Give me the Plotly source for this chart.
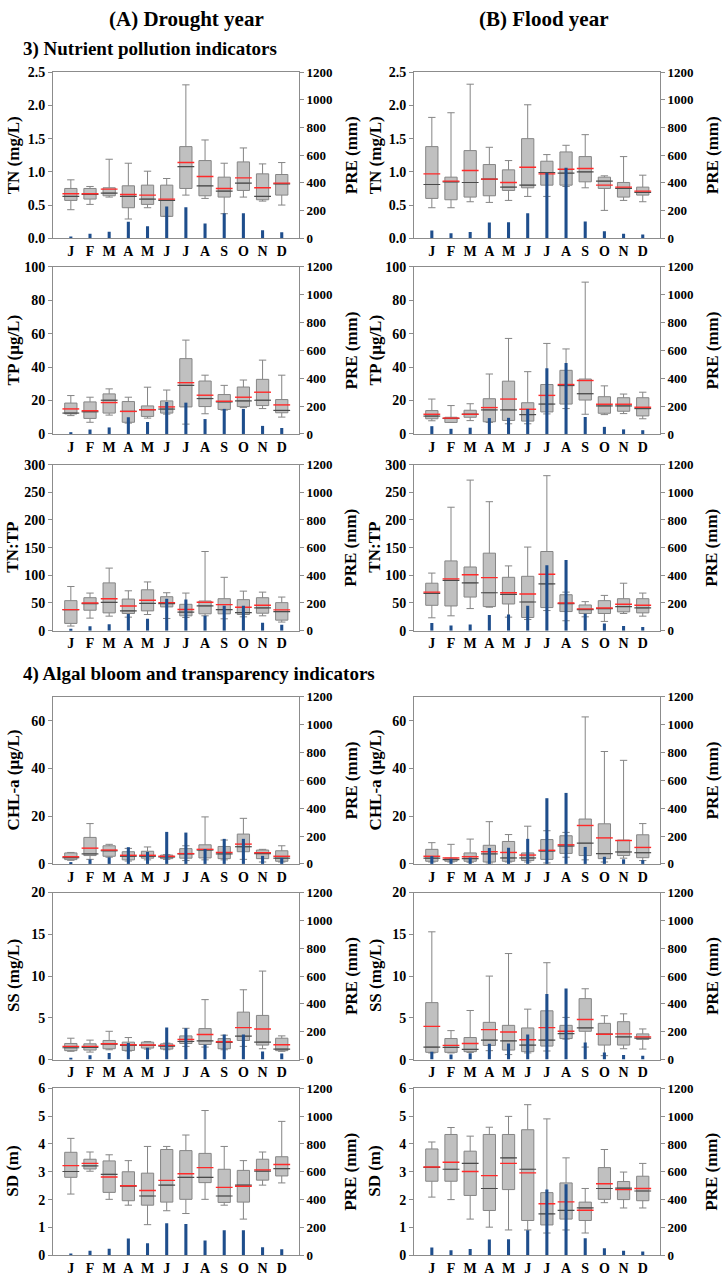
import plotly.graph_objects as go

MONTHS = ["J", "F", "M", "A", "M", "J", "J", "A", "S", "O", "N", "D"]

PRE_DROUGHT = [13, 32, 47, 120, 86, 230, 225, 107, 180, 180, 58, 43]
PRE_FLOOD = [56, 37, 45, 114, 116, 180, 472, 510, 122, 51, 33, 27]

# ---- TN (mg/L) ----
TN_D_LOW = [0.43, 0.51, 0.62, 0.29, 0.46, 0.33, 0.65, 0.60, 0.37, 0.62, 0.56, 0.50]
TN_D_Q1 = [0.57, 0.59, 0.64, 0.46, 0.51, 0.33, 0.75, 0.64, 0.62, 0.72, 0.58, 0.65]
TN_D_MED = [0.63, 0.66, 0.68, 0.63, 0.59, 0.57, 1.08, 0.79, 0.71, 0.83, 0.63, 0.82]
TN_D_Q3 = [0.75, 0.75, 0.76, 0.79, 0.80, 0.80, 1.38, 1.17, 0.92, 1.15, 0.97, 0.96]
TN_D_HIGH = [0.88, 0.78, 1.19, 1.13, 1.01, 0.90, 2.31, 1.48, 1.13, 1.36, 1.12, 1.14]
TN_D_MEAN = [0.67, 0.67, 0.74, 0.66, 0.65, 0.59, 1.14, 0.93, 0.75, 0.91, 0.76, 0.83]

TN_F_LOW = [0.46, 0.46, 0.55, 0.54, 0.57, 0.63, 0.63, 0.78, 0.76, 0.42, 0.57, 0.55]
TN_F_Q1 = [0.60, 0.58, 0.62, 0.64, 0.72, 0.76, 0.80, 0.80, 0.85, 0.75, 0.62, 0.65]
TN_F_MED = [0.81, 0.85, 0.84, 0.89, 0.77, 0.80, 0.99, 0.98, 1.00, 0.86, 0.75, 0.69]
TN_F_Q3 = [1.38, 0.92, 1.32, 1.11, 1.03, 1.50, 1.16, 1.30, 1.23, 0.92, 0.84, 0.77]
TN_F_HIGH = [1.82, 1.89, 2.32, 1.37, 1.17, 2.01, 1.26, 1.40, 1.56, 0.94, 1.23, 0.95]
TN_F_MEAN = [0.97, 0.86, 1.02, 0.89, 0.84, 1.07, 0.97, 1.04, 1.05, 0.80, 0.77, 0.71]

# ---- TP (ug/L) ----
TP_D_LOW = [11, 7, 11.3, 6.5, 9.5, 11.9, 5.9, 12.1, 14.3, 15.8, 15.2, 10.1]
TP_D_Q1 = [12, 9.3, 12.5, 7, 10.5, 12.5, 16.2, 16.4, 14.7, 16.4, 17, 12.7]
TP_D_MED = [12.5, 13.3, 20.2, 13.5, 14.5, 14.9, 29.1, 21.2, 19.2, 19.8, 20.2, 14.1]
TP_D_Q3 = [18.5, 19.2, 24, 19.4, 16.8, 19.8, 45.1, 31.7, 23.6, 28.1, 32.7, 20.6]
TP_D_HIGH = [23, 22, 27, 22, 28, 26.3, 56.2, 35.2, 29.1, 32.3, 44.2, 35.2]
TP_D_MEAN = [15, 13.9, 18.8, 13.5, 14.5, 16.2, 30.7, 23.2, 19.6, 22, 25, 17.4]

TP_F_LOW = [7.9, 6.9, 8, 6.9, 6.1, 6.1, 12, 15.2, 11.8, 11.6, 12.2, 9.1]
TP_F_Q1 = [9.1, 6.9, 10, 7.3, 8.1, 7.7, 13.2, 17.9, 20.3, 12.4, 13.6, 10.8]
TP_F_MED = [10.7, 9.3, 11.8, 14.4, 14.4, 11.6, 17.9, 29, 24.1, 16.8, 16.8, 15.2]
TP_F_Q3 = [14, 10, 14.2, 21.1, 31.6, 18.7, 29.6, 38.1, 32.9, 22.3, 21.7, 21.7]
TP_F_HIGH = [20.9, 17, 18.1, 35.9, 57.2, 37.3, 54.2, 50.9, 90.9, 28.8, 23.9, 25]
TP_F_MEAN = [11.8, 9.5, 11.8, 15.8, 20.9, 14.8, 23.1, 29.6, 32, 17.8, 17.8, 16]

# ---- TN:TP ----
NP_D_LOW = [8.3, 22.6, 26.2, 24.4, 29.2, 22, 23.8, 26.8, 21.4, 25, 26.8, 15.5]
NP_D_Q1 = [13.1, 36.9, 32.1, 31, 35.7, 42.9, 26.8, 30.4, 30.4, 29.2, 31.5, 19]
NP_D_MED = [38, 49, 51.2, 35.7, 49.4, 49, 33.3, 44.6, 38.1, 32.7, 41, 34.5]
NP_D_Q3 = [54.2, 59.5, 86.3, 57.1, 73.8, 61.3, 47.6, 53.6, 57.7, 56, 59.5, 50.6]
NP_D_HIGH = [79.8, 67.9, 113, 72, 88, 68.5, 67.9, 143, 96.4, 71.4, 69.6, 60.7]
NP_D_MEAN = [38, 50, 57.7, 44.6, 54.8, 50.6, 38.1, 51.2, 47, 42.3, 45.8, 37.5]

NP_F_LOW = [23.2, 26.8, 39.9, 42.3, 24.4, 20.2, 36.3, 17.9, 25, 16.7, 31, 26.2]
NP_F_Q1 = [45.8, 44.6, 60.7, 43.5, 48.2, 23.8, 41.7, 34.5, 31, 31, 33.9, 32.1]
NP_F_MED = [67.3, 91, 86.3, 68.5, 65.5, 51.8, 84.5, 48.8, 38.1, 39.9, 43.5, 41]
NP_F_Q3 = [85.7, 126, 115, 140, 96.4, 98.2, 143, 64.9, 46.4, 54.2, 57.7, 57.7]
NP_F_HIGH = [104, 223, 272, 233, 117, 151, 280, 69.6, 52.4, 63.7, 85.7, 67.9]
NP_F_MEAN = [69.6, 93.5, 101, 95.8, 68.5, 66.1, 102, 50, 39.3, 41, 47.6, 45.8]

# ---- CHL-a (ug/L) ----
CHL_D_LOW = [1.5, 1.9, 2.8, 1.2, 1.7, 1.9, 1.4, 1.7, 1.7, 1.9, 0.8, 0.8]
CHL_D_Q1 = [1.8, 3.5, 3.2, 1.7, 2.4, 2.2, 2.4, 2.5, 2.2, 5.1, 2.2, 1.1]
CHL_D_MED = [2.6, 4.2, 5.5, 3.2, 3.2, 2.9, 4.2, 5.8, 4.2, 7.2, 4.3, 2.4]
CHL_D_Q3 = [4.6, 11.1, 7.6, 5.1, 5.3, 3.7, 6.4, 8.0, 7.3, 12.5, 5.8, 5.5]
CHL_D_HIGH = [4.8, 16.9, 8.2, 6.5, 7.1, 3.9, 7.6, 19.7, 10.0, 19.1, 6.1, 7.6]
CHL_D_MEAN = [3.0, 6.6, 5.8, 3.6, 3.6, 3.2, 4.3, 6.1, 4.8, 8.3, 4.7, 3.2]

CHL_F_LOW = [0.8, 0.8, 0.7, 0.4, 0.8, 0.8, 0.4, 2.8, 1.7, 0.8, 2.4, 1.4]
CHL_F_Q1 = [1.1, 1.1, 1.1, 0.8, 1.1, 1.4, 1.9, 4.4, 3.5, 2.2, 3.5, 2.6]
CHL_F_MED = [2.4, 1.8, 2.2, 4.2, 2.5, 2.5, 5.4, 7.5, 8.7, 4.3, 5.0, 4.7]
CHL_F_Q3 = [6.1, 2.4, 4.6, 7.8, 9.4, 4.6, 10.2, 11.8, 18.8, 16.8, 10.0, 12.2]
CHL_F_HIGH = [8.9, 8.2, 10.4, 17.7, 12.3, 15.8, 13.9, 13.2, 61.6, 47.1, 43.4, 16.9]
CHL_F_MEAN = [3.2, 2.5, 3.0, 5.1, 4.8, 3.7, 5.7, 8.0, 16.1, 10.9, 9.8, 6.9]

# ---- SS (mg/L) ----
SS_D_LOW = [0.99, 0.9, 1.18, 1.03, 1.26, 1.18, 1.58, 1.5, 1.18, 1.58, 1.3, 0.99]
SS_D_Q1 = [1.07, 1.14, 1.3, 1.1, 1.38, 1.26, 1.93, 1.81, 1.3, 2.29, 1.74, 1.07]
SS_D_MED = [1.42, 1.46, 1.85, 1.7, 1.7, 1.62, 2.17, 2.25, 2.05, 2.8, 2.09, 1.26]
SS_D_Q3 = [1.93, 1.89, 2.29, 2.09, 2.09, 1.89, 2.84, 3.71, 2.52, 5.68, 5.29, 2.56]
SS_D_HIGH = [2.56, 2.33, 3.39, 2.64, 2.17, 1.97, 3.75, 7.18, 2.92, 8.36, 10.6, 2.84]
SS_D_MEAN = [1.58, 1.58, 1.89, 1.78, 1.74, 1.7, 2.41, 3.0, 2.13, 3.83, 3.67, 1.78]

SS_F_LOW = [0.8, 0.8, 0.85, 1.07, 0.6, 0.8, 1.03, 2.45, 1.5, 0.47, 1.3, 1.26]
SS_F_Q1 = [0.87, 0.87, 0.95, 1.7, 1.14, 0.95, 1.62, 2.52, 3.39, 1.74, 1.74, 2.41]
SS_F_MED = [1.5, 1.46, 1.22, 2.33, 2.25, 1.74, 2.33, 3.12, 3.79, 3.04, 2.72, 2.56]
SS_F_Q3 = [6.82, 2.52, 2.64, 4.46, 4.1, 3.79, 5.84, 4.1, 7.3, 4.34, 4.54, 3.08]
SS_F_HIGH = [15.3, 3.47, 5.88, 10.0, 12.7, 6.04, 11.6, 5.05, 8.48, 5.25, 5.48, 3.67]
SS_F_MEAN = [3.98, 1.7, 1.93, 3.59, 3.31, 2.37, 3.83, 3.39, 4.81, 3.04, 3.08, 2.72]

# ---- SD (m) ----
SD_D_LOW = [2.2, 3.02, 2.01, 1.8, 1.1, 1.6, 1.5, 2.01, 1.8, 1.3, 2.52, 2.6]
SD_D_Q1 = [2.8, 3.1, 2.26, 1.96, 1.8, 1.91, 2.01, 2.61, 1.9, 1.91, 2.7, 2.85]
SD_D_MED = [3.01, 3.21, 2.91, 2.48, 2.13, 2.52, 2.8, 2.8, 2.13, 2.52, 3.02, 3.11]
SD_D_Q3 = [3.7, 3.45, 3.39, 3.0, 2.95, 3.8, 3.76, 3.66, 3.09, 3.05, 3.45, 3.54]
SD_D_HIGH = [4.2, 3.71, 3.61, 3.4, 3.91, 3.91, 4.32, 5.2, 3.91, 3.4, 3.71, 4.81]
SD_D_MEAN = [3.22, 3.3, 2.81, 2.5, 2.33, 2.69, 2.93, 3.15, 2.44, 2.48, 3.07, 3.26]

SD_F_LOW = [2.09, 2.0, 1.3, 1.01, 0.91, 0.91, 0.8, 0.91, 0.8, 1.89, 1.7, 1.7]
SD_F_Q1 = [2.66, 2.66, 2.15, 1.61, 2.36, 1.25, 1.09, 1.3, 1.25, 2.01, 2.0, 1.96]
SD_F_MED = [3.16, 3.09, 3.3, 2.4, 3.5, 3.09, 1.49, 1.61, 1.7, 2.4, 2.41, 2.31]
SD_F_Q3 = [3.82, 4.34, 3.74, 4.34, 4.34, 4.51, 2.25, 2.6, 1.91, 3.15, 2.65, 2.84]
SD_F_HIGH = [4.07, 4.59, 4.28, 4.6, 4.99, 5.41, 4.9, 3.5, 2.4, 3.8, 2.99, 3.3]
SD_F_MEAN = [3.17, 3.34, 3.01, 2.86, 3.3, 2.96, 1.85, 1.92, 1.62, 2.57, 2.36, 2.4]

Y_LABELS = ["TN (mg/L)", "TP (μg/L)", "TN:TP", "CHL-a (μg/L)", "SS (mg/L)", "SD (m)"]
Y_RANGES = [[0, 2.5], [0, 100], [0, 300], [0, 70], [0, 20], [0, 6]]
Y_DTICKS = [0.5, 20, 50, 20, 5, 1]
Y_FORMATS = [".1f", "d", "d", "d", "d", "d"]

DROUGHT = [
    (TN_D_LOW, TN_D_Q1, TN_D_MED, TN_D_Q3, TN_D_HIGH, TN_D_MEAN),
    (TP_D_LOW, TP_D_Q1, TP_D_MED, TP_D_Q3, TP_D_HIGH, TP_D_MEAN),
    (NP_D_LOW, NP_D_Q1, NP_D_MED, NP_D_Q3, NP_D_HIGH, NP_D_MEAN),
    (CHL_D_LOW, CHL_D_Q1, CHL_D_MED, CHL_D_Q3, CHL_D_HIGH, CHL_D_MEAN),
    (SS_D_LOW, SS_D_Q1, SS_D_MED, SS_D_Q3, SS_D_HIGH, SS_D_MEAN),
    (SD_D_LOW, SD_D_Q1, SD_D_MED, SD_D_Q3, SD_D_HIGH, SD_D_MEAN),
]
FLOOD = [
    (TN_F_LOW, TN_F_Q1, TN_F_MED, TN_F_Q3, TN_F_HIGH, TN_F_MEAN),
    (TP_F_LOW, TP_F_Q1, TP_F_MED, TP_F_Q3, TP_F_HIGH, TP_F_MEAN),
    (NP_F_LOW, NP_F_Q1, NP_F_MED, NP_F_Q3, NP_F_HIGH, NP_F_MEAN),
    (CHL_F_LOW, CHL_F_Q1, CHL_F_MED, CHL_F_Q3, CHL_F_HIGH, CHL_F_MEAN),
    (SS_F_LOW, SS_F_Q1, SS_F_MED, SS_F_Q3, SS_F_HIGH, SS_F_MEAN),
    (SD_F_LOW, SD_F_Q1, SD_F_MED, SD_F_Q3, SD_F_HIGH, SD_F_MEAN),
]

W, H = 724, 1288
COL_X = [(53, 299), (414, 660)]
ROW_Y = [(66, 234), (263, 432), (463, 631), (698, 867), (896, 1065), (1094, 1263)]
FONT = "Liberation Serif"
AXIS_GREY = "#8c8c8c"
BOX_GREY = "#858585"
MEDIAN_GREY = "#4a4a4a"
BAR_BLUE = "#1f4e8c"


def bold(s):
    return "<b>" + s + "</b>"


pos = list(range(12))
fig = go.Figure()
layout = {}
annotations = []

for r in range(6):
    for c in range(2):
        k = r * 2 + c
        xn = k + 1
        yp = 2 * k + 1
        ys = 2 * k + 2
        xref = "x" if xn == 1 else f"x{xn}"
        ypref = "y" if yp == 1 else f"y{yp}"
        ysref = f"y{ys}"
        low, q1, med, q3, high, mean = (DROUGHT if c == 0 else FLOOD)[r]
        pre = PRE_DROUGHT if c == 0 else PRE_FLOOD

        fig.add_trace(go.Box(
            x=pos, q1=q1, median=med, q3=q3, lowerfence=low, upperfence=high,
            width=0.64, whiskerwidth=0.6, boxpoints=False,
            fillcolor="#c0c0c0", line=dict(color=BOX_GREY, width=1),
            xaxis=xref, yaxis=ypref, showlegend=False, hoverinfo="skip",
        ))
        fig.add_trace(go.Scatter(
            x=pos, y=med, mode="markers",
            marker=dict(symbol="line-ew", size=12, color=MEDIAN_GREY,
                        line=dict(color=MEDIAN_GREY, width=1.2)),
            xaxis=xref, yaxis=ypref, showlegend=False, hoverinfo="skip",
        ))
        fig.add_trace(go.Scatter(
            x=pos, y=mean, mode="markers",
            marker=dict(symbol="line-ew", size=12, color="#ff2a2a",
                        line=dict(color="#ff2a2a", width=1.4)),
            xaxis=xref, yaxis=ypref, showlegend=False, hoverinfo="skip",
        ))
        fig.add_trace(go.Bar(
            x=pos, y=pre, width=0.16, marker=dict(color=BAR_BLUE, line=dict(width=0)),
            xaxis=xref, yaxis=ysref, showlegend=False, hoverinfo="skip",
        ))

        x0, x1 = COL_X[c]
        yt, yb = ROW_Y[r]
        xkey = "xaxis" if xn == 1 else f"xaxis{xn}"
        ypkey = "yaxis" if yp == 1 else f"yaxis{yp}"
        yskey = f"yaxis{ys}"
        layout[xkey] = dict(
            domain=[x0 / W, x1 / W], anchor=ypref, range=[-0.93, 11.9],
            tickmode="array", tickvals=pos, ticktext=[bold(m) for m in MONTHS],
            showline=True, mirror=True, linecolor=AXIS_GREY, linewidth=1,
            showgrid=False, zeroline=False, ticks="",
            tickfont=dict(family=FONT, size=14, color="black", weight="bold"),
            fixedrange=True,
        )
        layout[ypkey] = dict(
            domain=[1 - yb / H, 1 - yt / H], anchor=xref, range=Y_RANGES[r],
            dtick=Y_DTICKS[r], tick0=0, tickformat=Y_FORMATS[r],
            showline=True, linecolor=AXIS_GREY, linewidth=1,
            ticks="outside", ticklen=4, tickcolor=AXIS_GREY,
            showgrid=False, zeroline=False,
            tickfont=dict(family=FONT, size=14, color="black", weight="bold"),
            fixedrange=True,
        )
        layout[yskey] = dict(
            overlaying=ypref, side="right", anchor=xref, range=[0, 1200],
            dtick=200, tick0=0,
            showline=True, linecolor=AXIS_GREY, linewidth=1,
            ticks="outside", ticklen=4, tickcolor=AXIS_GREY,
            showgrid=False, zeroline=False,
            tickfont=dict(family=FONT, size=13, color="black", weight="bold"),
            fixedrange=True,
        )
        ymid = 1 - (yt + yb) / 2 / H
        annotations.append(dict(
            text=bold(Y_LABELS[r]), xref="paper", yref="paper",
            x=(13 if c == 0 else 375) / W, y=ymid, textangle=-90,
            xanchor="center", yanchor="middle", showarrow=False,
            font=dict(family=FONT, size=17, color="black"),
        ))
        annotations.append(dict(
            text=bold("PRE (mm)"), xref="paper", yref="paper",
            x=(351 if c == 0 else 712) / W, y=ymid, textangle=-90,
            xanchor="center", yanchor="middle", showarrow=False,
            font=dict(family=FONT, size=17, color="black"),
        ))

for txt, xc in [("(A) Drought year", 187), ("(B) Flood year", 543)]:
    annotations.append(dict(
        text=bold(txt), xref="paper", yref="paper", x=xc / W, y=1 - 12 / H,
        xanchor="center", yanchor="middle", showarrow=False,
        font=dict(family=FONT, size=21, color="black"),
    ))
for txt, yc in [("3) Nutrient pollution indicators", 42),
                ("4) Algal bloom and transparency indicators", 675)]:
    annotations.append(dict(
        text=bold(txt), xref="paper", yref="paper", x=21 / W, y=1 - yc / H,
        xanchor="left", yanchor="middle", showarrow=False,
        font=dict(family=FONT, size=19, color="black"),
    ))

fig.update_layout(
    width=W, height=H, autosize=False,
    margin=dict(l=0, r=0, t=0, b=0),
    paper_bgcolor="white", plot_bgcolor="white",
    barmode="overlay", boxmode="overlay", showlegend=False,
    font=dict(family=FONT, color="black"),
    annotations=annotations,
    **layout,
)

fig.write_html(
    "out.html",
    config={"displayModeBar": False},
    post_script="document.body.style.margin='0';document.body.style.overflow='hidden';",
)
